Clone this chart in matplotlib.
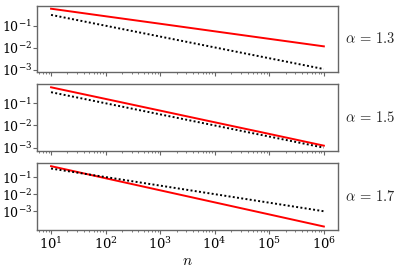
import numpy as np
import matplotlib
matplotlib.use("Agg")
import matplotlib.pyplot as plt
from matplotlib.ticker import LogLocator, NullLocator

plt.rcParams["mathtext.fontset"] = "cm"
plt.rcParams["font.family"] = "serif"
plt.rcParams["font.serif"] = ["DejaVu Serif"]

# sample sizes
n = [1e1, 1e2, 1e3, 1e4, 1e5, 1e6]

alphas = ["1.3", "1.5", "1.7"]

# red curves, one per alpha
red_13 = [0.575, 0.262, 0.120, 0.0546, 0.0249, 0.0114]
red_15 = [0.525, 0.157, 0.0467, 0.0139, 0.00416, 0.00123]
red_17 = [0.457, 0.0887, 0.0172, 0.00334, 0.00065, 0.000126]

# dotted reference curves
dot_13 = [0.302, 0.0977, 0.0316, 0.0102, 0.0033, 0.00107]
dot_15 = [0.316, 0.100, 0.0316, 0.0100, 0.00316, 0.00100]
dot_17 = [0.331, 0.104, 0.0325, 0.0102, 0.0032, 0.00100]

reds = [red_13, red_15, red_17]
dots = [dot_13, dot_15, dot_17]

fig = plt.figure(figsize=(3.98, 2.71), dpi=100)

left, width = 0.094, 0.754
bottoms = [0.734, 0.444, 0.153]
height = 0.245
spine_col = "0.4"

for i in range(3):
    ax = fig.add_axes([left, bottoms[i], width, height])
    ax.plot(n, reds[i], color="red", lw=1.4)
    ax.plot(n, dots[i], color="black", lw=1.4, linestyle=(0, (1, 1.2)))
    ax.set_xscale("log")
    ax.set_yscale("log")
    ax.set_yticks([1e-1, 1e-2, 1e-3])
    ax.yaxis.set_minor_locator(NullLocator())
    ax.xaxis.set_major_locator(LogLocator(base=10, numticks=10))
    ax.xaxis.set_minor_locator(LogLocator(base=10, subs=np.arange(2, 10), numticks=20))
    for s in ax.spines.values():
        s.set_color(spine_col)
        s.set_linewidth(1.0)
    ax.tick_params(which="major", length=3, width=0.8, color=spine_col, labelsize=9.5, pad=1.5)
    ax.tick_params(axis="y", labelsize=9, pad=1)
    ax.tick_params(which="minor", length=1.6, width=0.6, color=spine_col)
    if i < 2:
        ax.tick_params(axis="x", which="both", labelbottom=False)
    ax.text(1.025, 0.5, r"$\alpha\,=\,$" + r"$" + alphas[i] + "$", transform=ax.transAxes,
            ha="left", va="center", fontsize=10.5, color="0.15")

ax.set_xlabel(r"$n$", fontsize=11, labelpad=2)

fig.savefig("out.png", dpi=100)
